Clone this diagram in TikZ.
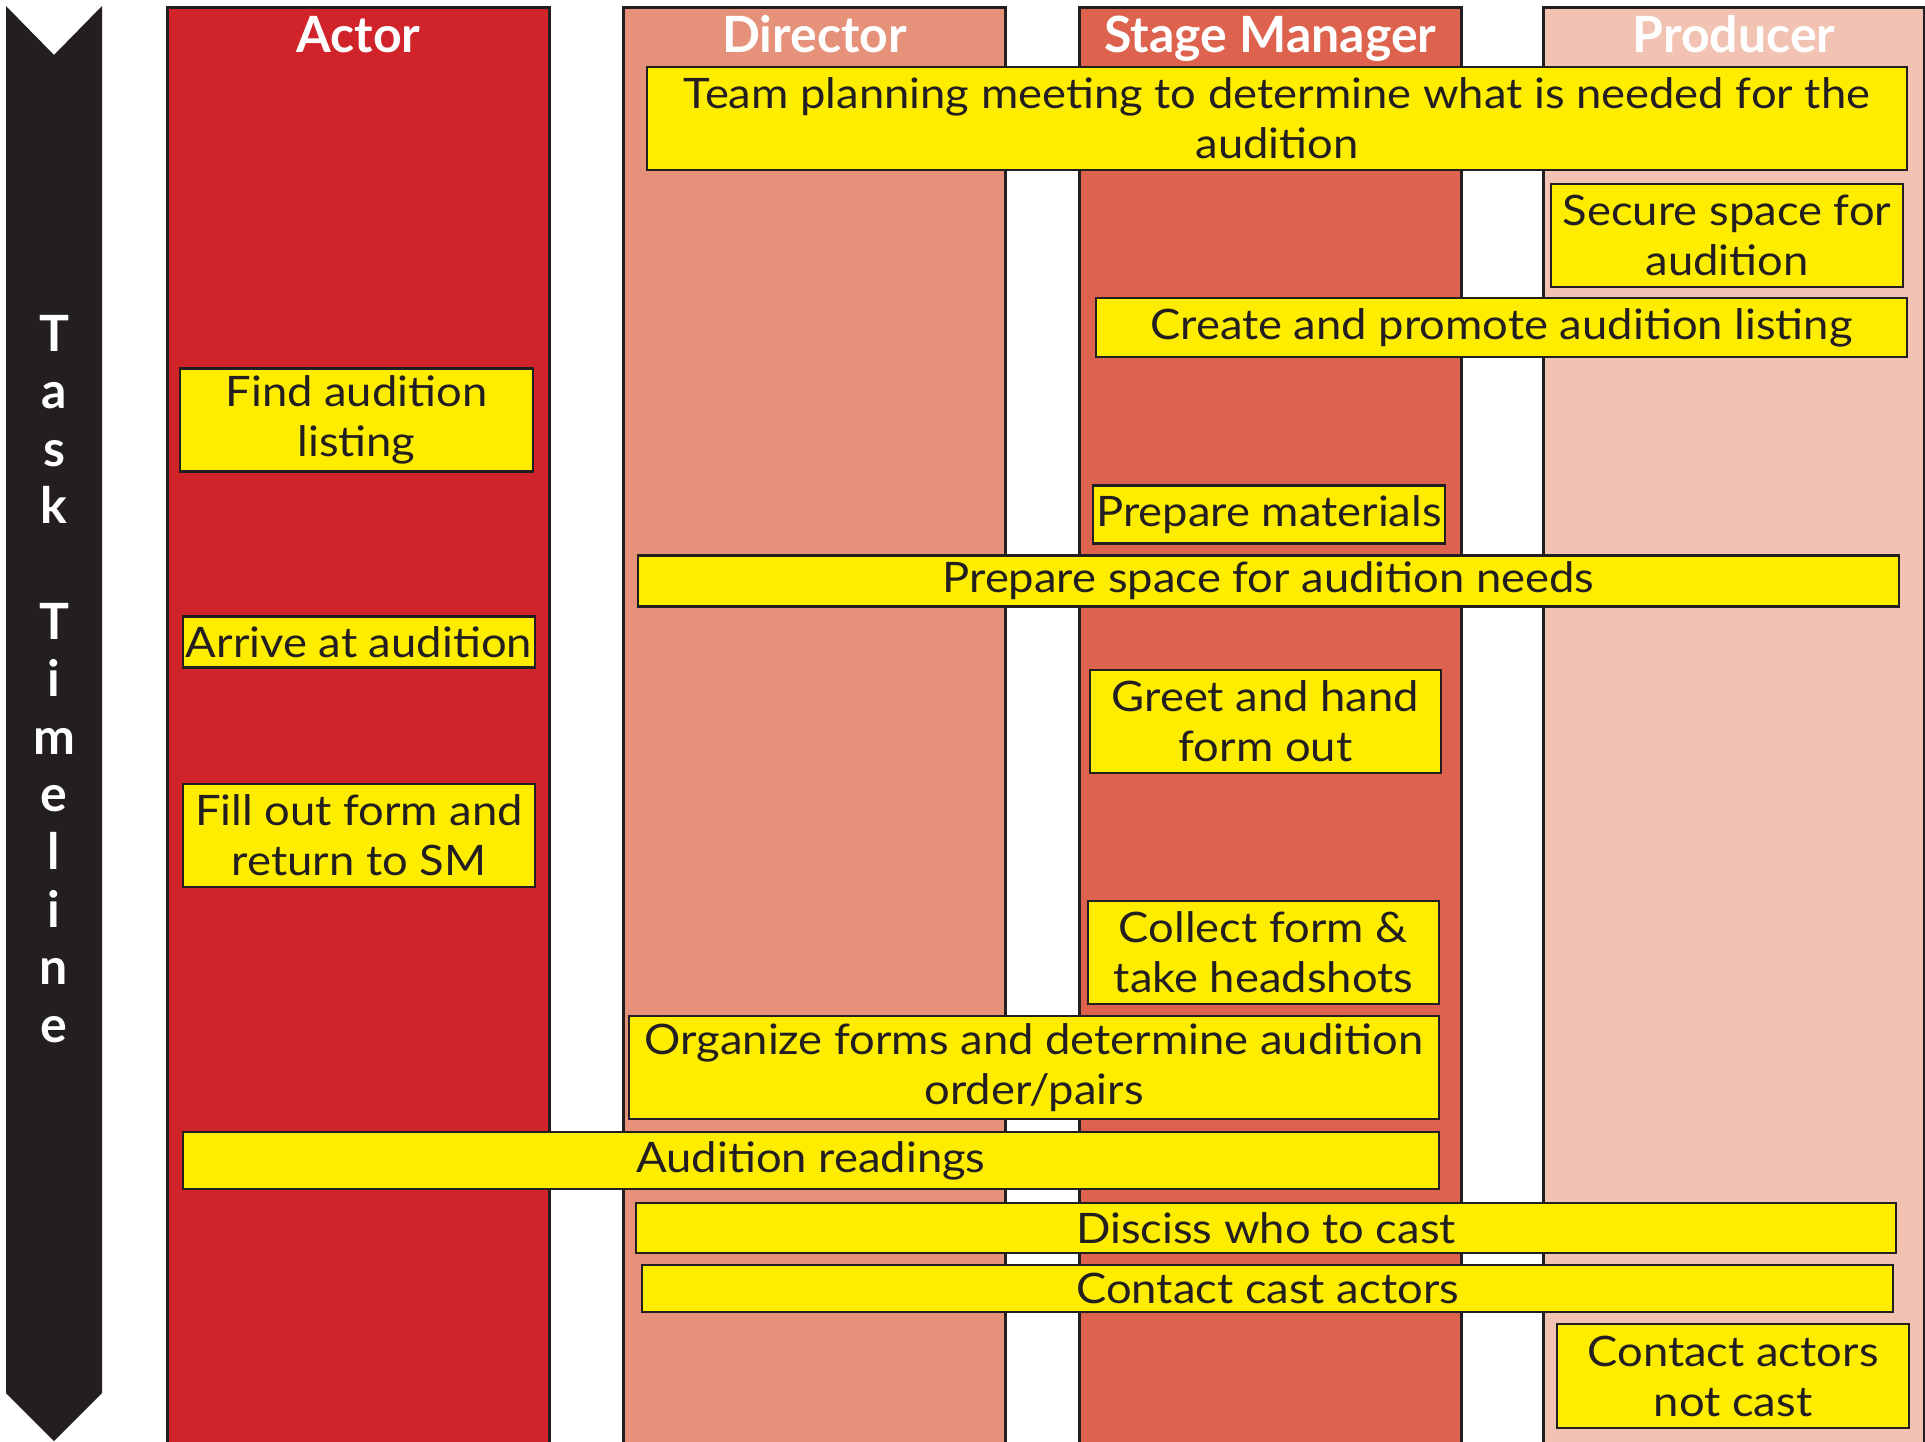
\documentclass[tikz,border=0pt]{standalone}
\usepackage{fontspec}
\setmainfont{Lato}
\newfontfamily\taskfont{Lato}[FakeStretch=1.08]
\usepackage{tikz}
\usetikzlibrary{calc}
\tikzset{>=latex}

\definecolor{darkline}{RGB}{35,31,32}
\definecolor{actorred}{RGB}{208,35,42}
\definecolor{directorred}{RGB}{230,145,122}
\definecolor{smred}{RGB}{221,99,79}
\definecolor{producerred}{RGB}{242,195,179}
\definecolor{taskyellow}{RGB}{255,237,0}

\tikzset{
  lane/.style={draw=darkline, line width=3pt, anchor=north west, inner sep=0pt,
    minimum width=382pt, minimum height=1460pt},
  head/.style={text=white, anchor=base, font=\fontsize{50}{60}\selectfont\bfseries},
  tlletter/.style={text=white, anchor=base, inner sep=0pt, font=\fontsize{50}{60}\selectfont\bfseries},
  task/.style={draw=darkline, fill=taskyellow, line width=2.5pt, align=center, inner sep=0pt,
    text=darkline, font=\taskfont\fontsize{42}{50}\selectfont}
}

\begin{document}
\begin{tikzpicture}[x=1pt,y=-1pt]
\path[use as bounding box, clip] (0,0) rectangle (1925,1441);
% timeline arrow
\fill[darkline] (6,6) -- (54,55) -- (102,6) -- (102,1393) -- (54,1441) -- (6,1393) -- cycle;
\foreach \ch/\k in {T/0,a/1,s/2,k/3,T/5,i/6,m/7,e/8,l/9,i/10,n/11,e/12}
  \node[tlletter] (tl\k) at (54,{351+57.6*\k}) {\ch};

% lanes
\node[lane, fill=actorred] (actor) at (166,6) {};
\node[lane, fill=directorred] (director) at (622,6) {};
\node[lane, fill=smred] (stagemgr) at (1078,6) {};
\node[lane, fill=producerred, minimum width=381pt] (producer) at (1542,6) {};
\node[head] (actorhead) at ([yshift=-46pt]actor.north) {Actor};
\node[head] (directorhead) at ([yshift=-46pt]director.north) {Director};
\node[head] (stagemgrhead) at ([yshift=-46pt]stagemgr.north) {Stage Manager};
\node[head] (producerhead) at ([yshift=-46pt]producer.north) {Producer};

% tasks
\node[task, minimum width=1260pt, minimum height=103pt] (team) at (1277,118.5) {Team planning meeting to determine what is needed for the\\audition};
\node[task, minimum width=352pt, minimum height=103pt] (secure) at (1727,235.5) {Secure space for\\audition};
\node[task, minimum width=811pt, minimum height=59pt] (promote) at (1501.5,327.5) {Create and promote audition listing};
\node[task, minimum width=353pt, minimum height=103pt] (findlist) at (356.5,420) {Find audition\\listing};
\node[task, minimum width=352pt, minimum height=58pt] (materials) at (1269,514.5) {Prepare materials};
\node[task, minimum width=1261pt, minimum height=51pt] (prepspace) at (1268.5,581) {Prepare space for audition needs};
\node[task, minimum width=352pt, minimum height=51pt] (arrive) at (359,642) {Arrive at audition};
\node[task, minimum width=351pt, minimum height=103pt] (greet) at (1265.5,721.5) {Greet and hand\\form out};
\node[task, minimum width=352pt, minimum height=103pt] (fillout) at (359,835.5) {Fill out form and\\return to SM};
\node[task, minimum width=351pt, minimum height=103pt] (collect) at (1263.5,952.5) {Collect form \&\\take headshots};
\node[task, minimum width=810pt, minimum height=103pt] (organize) at (1034,1067.5) {Organize forms and determine audition\\order/pairs};
\node[task, minimum width=1256pt, minimum height=57pt] (readings) at (811,1160.5) {Audition readings};
\node[task, minimum width=1260pt, minimum height=50pt] (discuss) at (1266,1228) {Disciss who to cast};
\node[task, minimum width=1251pt, minimum height=47pt] (castcontact) at (1267.5,1288.5) {Contact cast actors};
\node[task, minimum width=352pt, minimum height=104pt] (notcast) at (1733,1376) {Contact actors\\not cast};
\end{tikzpicture}
\end{document}
